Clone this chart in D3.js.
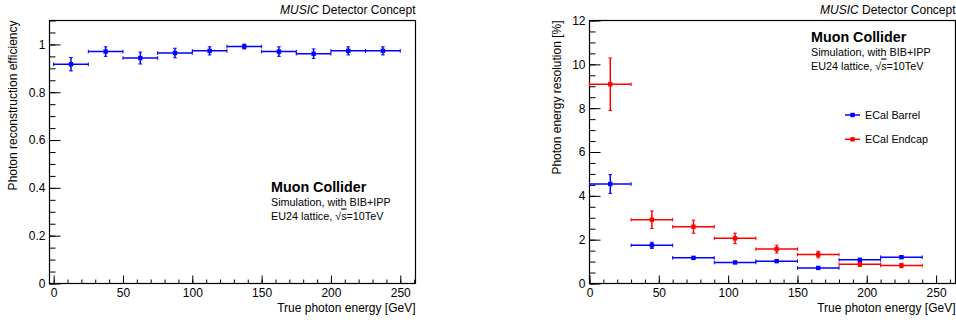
<!DOCTYPE html>
<html>
<head>
<meta charset="utf-8">
<script src="https://cdn.jsdelivr.net/npm/d3@7"></script>
<style>
  body { margin: 0; background: #fff; }
  svg text { font-family: "Liberation Sans", Arial, sans-serif; fill: #000; }
</style>
</head>
<body>
<svg id="chart" width="956" height="323"></svg>
<script>
// efficiency panel: 10 bins of 25 GeV
const effBinEdges = [0, 25, 50, 75, 100, 125, 150, 175, 200, 225, 250];
const effValues = [0.917, 0.970, 0.943, 0.964, 0.973, 0.991, 0.970, 0.961, 0.973, 0.973];
const effErrors = [0.028, 0.020, 0.025, 0.020, 0.017, 0.010, 0.020, 0.020, 0.017, 0.017];

// resolution panel: 8 bins of 30 GeV
const resBinEdges = [0, 30, 60, 90, 120, 150, 180, 210, 240];
const barrelValues = [4.54, 1.74, 1.17, 0.96, 1.02, 0.71, 1.08, 1.20];
const barrelErrors = [0.43, 0.14, 0.06, 0.05, 0.06, 0.04, 0.06, 0.06];
const endcapValues = [9.09, 2.91, 2.59, 2.06, 1.57, 1.32, 0.88, 0.82];
const endcapErrors = [1.20, 0.40, 0.30, 0.24, 0.18, 0.15, 0.10, 0.10];

const seriesNames = ['ECal Barrel', 'ECal Endcap'];
const seriesColors = ['#0000ff', '#ff0000'];

const xTicks = [0, 50, 100, 150, 200, 250];
const effYTicks = [0, 0.2, 0.4, 0.6, 0.8, 1];
const effYLabels = ['0', '0.2', '0.4', '0.6', '0.8', '1'];
const resYTicks = [0, 2, 4, 6, 8, 10, 12];
const resYLabels = ['0', '2', '4', '6', '8', '10', '12'];

const svg = d3.select('#chart');

function binsOf(edges, values, errors) {
    return values.map((v, i) => ({ lo: edges[i], hi: edges[i + 1], y: v, err: errors[i] }));
}

function drawPanel(p) {
    const g = svg.append('g');
    const x = d3.scaleLinear().domain(p.xDomain).range([p.left, p.right]);
    const y = d3.scaleLinear().domain(p.yDomain).range([p.bottom, p.top]);

    // minor ticks
    g.append('g')
        .attr('transform', `translate(0,${p.bottom})`)
        .call(d3.axisBottom(x).tickValues(d3.range(0, p.xDomain[1], 10)).tickSize(-4).tickFormat(''))
        .call(a => a.select('.domain').remove());
    g.append('g')
        .attr('transform', `translate(${p.left},0)`)
        .call(d3.axisLeft(y).tickValues(d3.range(0, p.yDomain[1] + 1e-9, p.yMinor)).tickSize(-6).tickFormat(''))
        .call(a => a.select('.domain').remove());

    // major ticks
    g.append('g')
        .attr('transform', `translate(0,${p.bottom})`)
        .call(d3.axisBottom(x).tickValues(xTicks).tickSize(-8).tickPadding(5).tickFormat(d => d))
        .call(a => a.select('.domain').remove())
        .call(a => a.selectAll('text').style('font-size', '12px'));
    g.append('g')
        .attr('transform', `translate(${p.left},0)`)
        .call(d3.axisLeft(y).tickValues(p.yTicks).tickSize(-11).tickPadding(4).tickFormat((d, i) => p.yLabels[i]))
        .call(a => a.select('.domain').remove())
        .call(a => a.selectAll('text').style('font-size', '12px'));
    g.selectAll('.tick line').attr('stroke', '#000');

    // frame
    g.append('rect')
        .attr('x', p.left).attr('y', p.top)
        .attr('width', p.right - p.left).attr('height', p.bottom - p.top)
        .attr('fill', 'none').attr('stroke', '#000').attr('stroke-width', 1.2);

    // data points with error bars
    p.series.forEach(s => {
        const sg = g.append('g').attr('stroke', s.color).attr('fill', s.color).attr('stroke-width', 1.5);
        const pts = sg.selectAll('g.pt').data(s.bins).enter().append('g').classed('pt', true);
        pts.append('line')
            .attr('x1', d => x(d.lo)).attr('x2', d => x(d.hi))
            .attr('y1', d => y(d.y)).attr('y2', d => y(d.y));
        pts.append('line')
            .attr('x1', d => x((d.lo + d.hi) / 2)).attr('x2', d => x((d.lo + d.hi) / 2))
            .attr('y1', d => y(d.y - d.err)).attr('y2', d => y(d.y + d.err));
        // end caps
        [d => d.lo, d => d.hi].forEach(f => {
            pts.append('line').attr('stroke-width', 1)
                .attr('x1', d => x(f(d))).attr('x2', d => x(f(d)))
                .attr('y1', d => y(d.y) - 1.8).attr('y2', d => y(d.y) + 1.8);
        });
        [-1, 1].forEach(k => {
            pts.append('line').attr('stroke-width', 1)
                .attr('x1', d => x((d.lo + d.hi) / 2) - 1.8).attr('x2', d => x((d.lo + d.hi) / 2) + 1.8)
                .attr('y1', d => y(d.y + k * d.err)).attr('y2', d => y(d.y + k * d.err));
        });
        pts.append('rect')
            .attr('x', d => x((d.lo + d.hi) / 2) - 2.2).attr('y', d => y(d.y) - 2.2)
            .attr('width', 4.4).attr('height', 4.4).attr('stroke', 'none');
    });

    // header text
    const hdr = g.append('text').attr('x', p.right).attr('y', 14)
        .attr('text-anchor', 'end').style('font-size', '12px');
    hdr.append('tspan').style('font-style', 'italic').text('MUSIC');
    hdr.append('tspan').text(' Detector Concept');

    // axis titles
    g.append('text').attr('x', p.right).attr('y', 312)
        .attr('text-anchor', 'end').style('font-size', '12px')
        .text('True photon energy [GeV]');
    g.append('text')
        .attr('transform', `translate(${p.yTitleX},${p.top}) rotate(-90)`)
        .attr('text-anchor', 'end').style('font-size', '12px')
        .text(p.yTitle);

    // Muon Collider label
    const lab = g.append('g').attr('transform', `translate(${p.labelX},${p.labelY})`);
    lab.append('text').attr('y', 0).style('font-size', '14.3px').style('font-weight', 'bold').text('Muon Collider');
    lab.append('text').attr('y', 14).style('font-size', '10.8px').text('Simulation, with BIB+IPP');
    const l3 = lab.append('text').attr('y', 27.5).style('font-size', '10.8px');
    l3.append('tspan').text('EU24 lattice, \u221A');
    l3.append('tspan').style('text-decoration', 'overline').text('s');
    l3.append('tspan').text('=10TeV');

    return { x, y, g };
}

drawPanel({
    left: 49.5, right: 415.5, top: 20.5, bottom: 283.5,
    xDomain: [-3, 261], yDomain: [0, 1.1], yMinor: 0.05,
    yTicks: effYTicks, yLabels: effYLabels,
    yTitle: 'Photon reconstruction efficiency', yTitleX: 17,
    labelX: 271, labelY: 192,
    series: [{ color: seriesColors[0], bins: binsOf(effBinEdges, effValues, effErrors) }]
});

const right = drawPanel({
    left: 589.5, right: 955.5, top: 20.5, bottom: 283.5,
    xDomain: [0, 264], yDomain: [0, 12], yMinor: 0.5,
    yTicks: resYTicks, yLabels: resYLabels,
    yTitle: 'Photon energy resolution [%]', yTitleX: 561,
    labelX: 811, labelY: 42,
    series: [
        { color: seriesColors[1], bins: binsOf(resBinEdges, endcapValues, endcapErrors) },
        { color: seriesColors[0], bins: binsOf(resBinEdges, barrelValues, barrelErrors) }
    ]
});

// legend
const legend = right.g.append('g').attr('transform', 'translate(845,115)');
const items = legend.selectAll('g').data(seriesNames).enter().append('g')
    .attr('transform', (d, i) => `translate(0,${i * 24.3})`);
items.append('line').attr('x1', 0).attr('x2', 15).attr('y1', 0).attr('y2', 0)
    .attr('stroke', (d, i) => seriesColors[i]).attr('stroke-width', 1.5);
items.append('rect').attr('x', 5.3).attr('y', -2.2).attr('width', 4.4).attr('height', 4.4)
    .attr('fill', (d, i) => seriesColors[i]);
items.append('text').attr('x', 20).attr('y', 4).style('font-size', '10.8px').text(d => d);
</script>
</body>
</html>
